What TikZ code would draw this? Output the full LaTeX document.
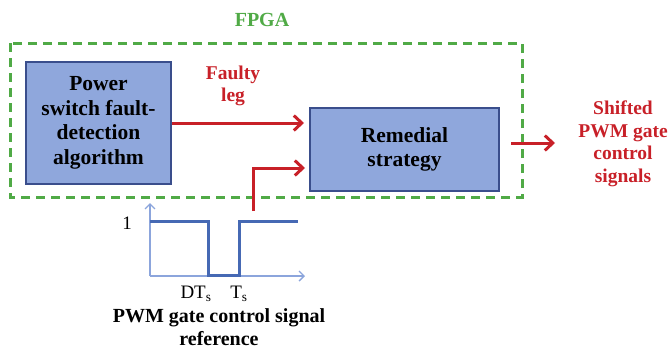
\documentclass[tikz,border=0pt]{standalone}
\usepackage{fontspec}
\setmainfont{Liberation Serif}
\usetikzlibrary{positioning,arrows.meta}

\definecolor{boxfill}{RGB}{143,167,220}
\definecolor{boxline}{RGB}{58,78,140}
\definecolor{legred}{RGB}{200,32,40}
\definecolor{fpgagreen}{RGB}{80,170,70}
\definecolor{sigblue}{RGB}{70,105,180}
\definecolor{axisblue}{RGB}{140,165,220}

\tikzset{
  block/.style={draw=boxline,fill=boxfill,line width=2pt,align=center,
    inner sep=0pt,font=\bfseries\fontsize{21.5}{24.5}\selectfont},
  redarrow/.style={draw=legred,line width=3pt,
    -{Straight Barb[length=8pt,width=15pt,line width=3pt]}},
  redlabel/.style={text=legred,align=center,
    font=\bfseries\fontsize{19.5}{22.5}\selectfont},
  fpgabox/.style={draw=fpgagreen,line width=3pt,dash pattern=on 9pt off 6pt},
  axisline/.style={draw=axisblue,line width=1.4pt,
    -{Straight Barb[length=5pt,width=10pt,line width=1.4pt]}},
  signal/.style={draw=sigblue,line width=3pt},
  plainlabel/.style={font=\fontsize{19}{22}\selectfont},
}

\begin{document}
\begin{tikzpicture}[x=1pt,y=-1pt]
  \useasboundingbox (0,0) rectangle (668,351);

  % FPGA area
  \draw[fpgabox] (10,43) rectangle (522,197);
  \node[text=fpgagreen,font=\bfseries\fontsize{20}{22}\selectfont] (fpga) at (262,20) {FPGA};

  % the two blocks
  \node[block,minimum width=145pt,minimum height=122pt] (detect) at (98.5,123)
    {Power\\switch fault-\\detection\\algorithm};
  \node[block,minimum width=189pt,minimum height=83pt] (remedial) at (404.5,149.5)
    {Remedial\\strategy};

  % faulty leg
  \draw[redarrow,shorten >=5pt] (detect.east) -- (detect.east -| remedial.west);
  \node[redlabel] (faulty) at (233,86) {Faulty\\leg};

  % PWM reference into the strategy
  \coordinate (sigtap) at (253,211);
  \coordinate (sigin) at (305,168);
  \draw[redarrow] (sigtap) |- (sigin);

  % output
  \coordinate (outend) at (555,143);
  \draw[redarrow,shorten <=11pt] (remedial.east |- outend) -- (outend);
  \node[redlabel] (shifted) at (623,144) {Shifted\\PWM gate\\control\\signals};

  % PWM gate control signal
  \coordinate (orig) at (150,276);
  \draw[axisline] (orig) -- (150,203);
  \draw[axisline] (orig) -- (305,276);
  \draw[signal] (150,221) -- (208,221) -- (208,275) -- (239,275) -- (239,221) -- (298,221);
  \node[plainlabel] (one) at (127,223) {1};
  \node[plainlabel] (dt) at (196,294) {DT\textsubscript{s}};
  \node[plainlabel] (ts) at (239,294) {T\textsubscript{s}};
  \node[align=center,font=\bfseries\fontsize{20}{23}\selectfont] (pwmref) at (219,327)
    {PWM gate control signal\\reference};
\end{tikzpicture}
\end{document}
